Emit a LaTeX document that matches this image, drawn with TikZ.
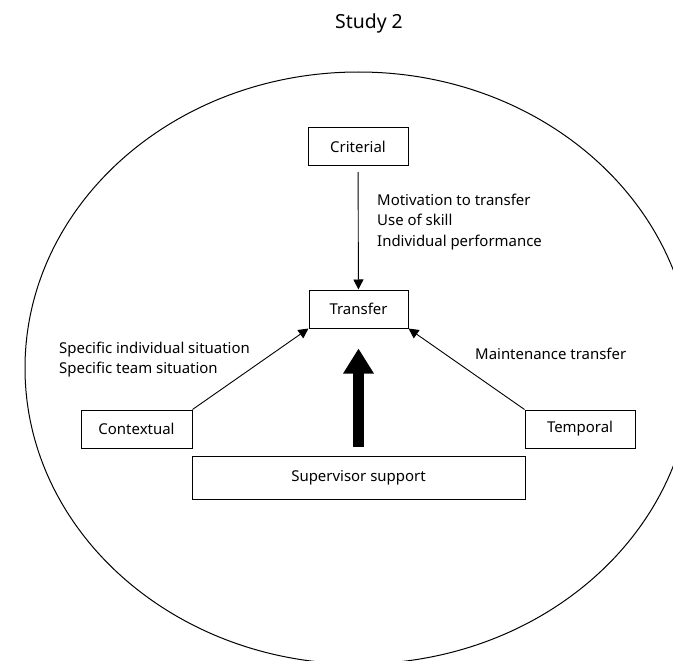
\documentclass[tikz,border=0pt]{standalone}
\usepackage{fontspec}
\setmainfont{Noto Sans}
\usetikzlibrary{arrows.meta}
\begin{document}
\begin{tikzpicture}[x=1bp,y=-1bp,
  every node/.style={font=\fontsize{15}{20.5}\selectfont},
  box/.style={draw,line width=1bp,minimum height=38bp,inner sep=0pt},
  lbl/.style={align=left,anchor=west,inner sep=0pt},
  thin/.style={line width=0.9bp,-{Triangle[length=10bp,width=10bp]}},
  bigarrow/.style={line width=11bp,-{Triangle[length=25bp,width=29bp]}}]
\useasboundingbox (0,0) rectangle (673,661);
% surrounding ellipse, cut off by the page edges
\begin{scope}
  \clip (0,0) rectangle (673,661);
  \draw[line width=1bp] (358.5,368) ellipse [x radius=333.5, y radius=296];
\end{scope}
\node[font=\fontsize{19.5}{24}\selectfont] (title) at (369,23) {Study 2};
\node[box,minimum width=100bp] (crit) at (358,146.5) {Criterial};
\node[box,minimum width=99bp] (trans) at (358.5,309) {Transfer};
\node[box,minimum width=111bp] (cont) at (136.5,429) {Contextual};
\node[box,minimum width=110bp] (temp) at (580,429) {Temporal};
\node[box,minimum width=333bp,minimum height=43bp] (supp) at (358.5,477.5) {Supervisor support};
\draw[thin,shorten <=6bp] (crit) -- (trans);
\draw[thin] (cont.north east) -- (trans.south west);
\draw[thin] (temp.north west) -- (trans.south east);
\draw[bigarrow,shorten <=9bp,shorten >=20bp] (supp.north -| trans.south) -- (trans.south);
\node[lbl] (critlbl) at (377,222) {Motivation to transfer\\Use of skill\\Individual performance};
\node[lbl] (contlbl) at (59,359.5) {Specific individual situation\\Specific team situation};
\node[lbl] (templbl) at (475,354) {Maintenance transfer};
\end{tikzpicture}
\end{document}
